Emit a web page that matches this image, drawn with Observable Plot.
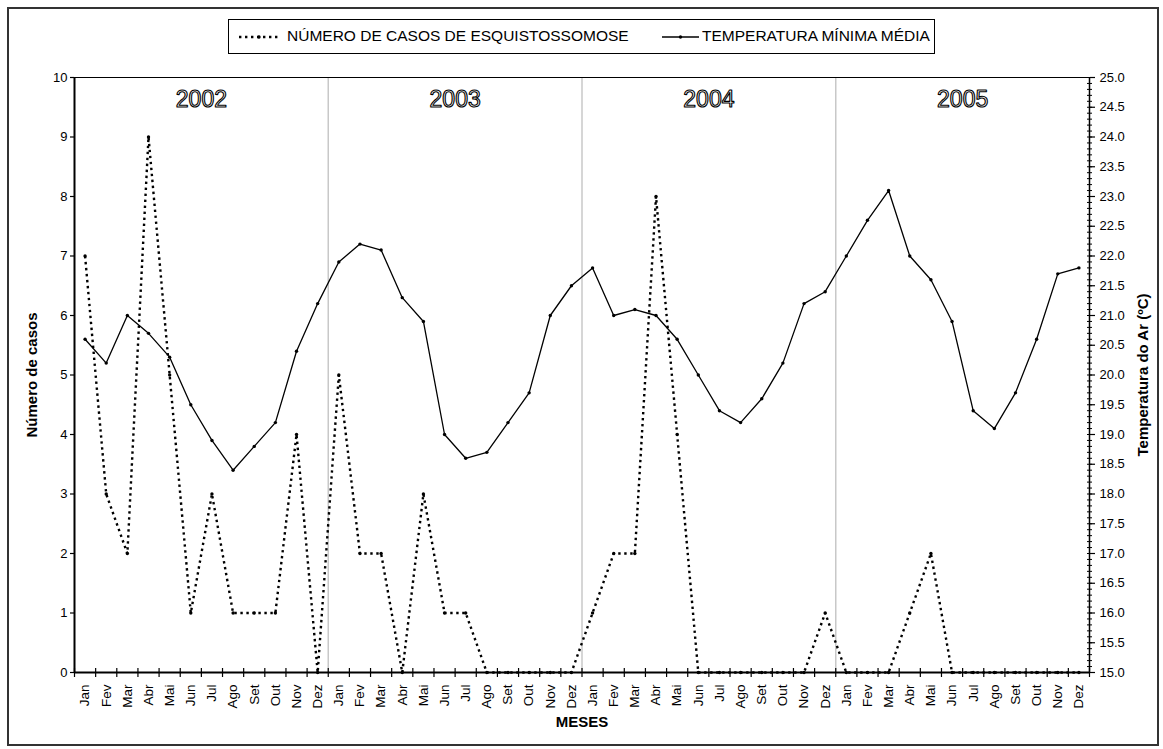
<!DOCTYPE html>
<html>
<head>
<meta charset="utf-8">
<script src="https://cdn.jsdelivr.net/npm/d3@7"></script>
<script src="https://cdn.jsdelivr.net/npm/@observablehq/plot@0.6"></script>
<style>
  html, body { margin: 0; padding: 0; background: #fff; }
  #wrap { position: relative; width: 1163px; height: 749px; overflow: hidden; font-family: "Liberation Sans", Arial, sans-serif; }
  #frame { position: absolute; left: 7px; top: 7px; width: 1148px; height: 735px; border: 2px solid #333; pointer-events: none; }
  #legend { position: absolute; left: 228px; top: 19px; width: 705px; height: 33px; border: 1px solid #000; background: #fff;
            font-size: 15.5px; color: #000; white-space: nowrap; }
  #legend svg, #legend span { position: absolute; display: block; }
  #chart { position: absolute; left: 0; top: 0; }
</style>
</head>
<body>
<div id="wrap">
  <div id="chart"></div>
  <div id="legend"></div>
  <div id="frame"></div>
</div>
<script>
const months = ["Jan","Fev","Mar","Abr","Mai","Jun","Jul","Ago","Set","Out","Nov","Dez"];
const years = ["2002","2003","2004","2005"];
const seriesNames = ["NÚMERO DE CASOS DE ESQUISTOSSOMOSE", "TEMPERATURA MÍNIMA MÉDIA"];

// Número de casos (eixo esquerdo), Jan 2002 .. Dez 2005
const cases = [
  7, 3, 2, 9, 5, 1, 3, 1, 1, 1, 4, 0,
  5, 2, 2, 0, 3, 1, 1, 0, 0, 0, 0, 0,
  1, 2, 2, 8, 4, 0, 0, 0, 0, 0, 0, 1,
  0, 0, 0, 1, 2, 0, 0, 0, 0, 0, 0, 0
];
// Temperatura mínima média (°C, eixo direito)
const temperature = [
  20.6, 20.2, 21.0, 20.7, 20.3, 19.5, 18.9, 18.4, 18.8, 19.2, 20.4, 21.2,
  21.9, 22.2, 22.1, 21.3, 20.9, 19.0, 18.6, 18.7, 19.2, 19.7, 21.0, 21.5,
  21.8, 21.0, 21.1, 21.0, 20.6, 20.0, 19.4, 19.2, 19.6, 20.2, 21.2, 21.4,
  22.0, 22.6, 23.1, 22.0, 21.6, 20.9, 19.4, 19.1, 19.7, 20.6, 21.7, 21.8
];
const leftTicks = d3.range(0, 11, 1);
const rightMajor = d3.range(15, 25.001, 0.5).map(v => +v.toFixed(1));
const rightMinor = d3.range(15, 25.001, 0.1).map(v => +v.toFixed(1));
const tempMin = 15;

const n = cases.length;
const rows = cases.map((c, i) => ({ i, c, t: temperature[i], month: months[i % 12] }));
const boundaries = d3.range(n + 1).map(k => k - 0.5);
const yearBreaks = d3.range(1, years.length).map(k => k * 12 - 0.5);

const W = 1163, H = 749, mL = 74, mR = 74, mT = 77, mB = 77;
const plotH = H - mT - mB, plotW = W - mL - mR;
const blank = () => "";

const chart = Plot.plot({
  width: W, height: H,
  marginLeft: mL, marginRight: mR, marginTop: mT, marginBottom: mB,
  style: { fontFamily: '"Liberation Sans", Arial, sans-serif', fontSize: "13px", color: "#000", background: "transparent", overflow: "visible" },
  x: { type: "linear", domain: [-0.5, n - 0.5] },
  y: { domain: [0, 10] },
  marks: [
    // year separators
    Plot.ruleX(yearBreaks, { stroke: "#c8c8c8", strokeWidth: 1.5 }),
    // plot-area top border
    Plot.ruleY([10], { stroke: "#000", strokeWidth: 1 }),
    // x axis: category boundary ticks (crossing the axis)
    Plot.axisX(boundaries, { anchor: "bottom", tickSize: 5, tickFormat: blank, label: null, strokeWidth: 1.2 }),
    Plot.tickX(boundaries, { x: d => d, insetTop: plotH - 4, stroke: "#000", strokeWidth: 1.2 }),
    // x axis month labels
    Plot.axisX(d3.range(n), { anchor: "bottom", tickSize: 0, tickPadding: 12, tickRotate: -90, fontSize: 13.5,
      tickFormat: i => months[i % 12], label: null }),
    // left axis
    Plot.axisY(leftTicks, { anchor: "left", tickSize: 4, tickPadding: 3, label: null, strokeWidth: 1.2, tickFormat: d3.format("d") }),
    // right axis: minor crossing ticks + major labelled ticks
    Plot.axisY(rightMinor.map(v => v - tempMin), { anchor: "right", tickSize: 2, tickFormat: blank, label: null, strokeWidth: 1 }),
    Plot.tickY(rightMinor.map(v => v - tempMin), { y: d => d, insetLeft: plotW - 2, stroke: "#000", strokeWidth: 1 }),
    Plot.axisY(rightMajor.map(v => v - tempMin), { anchor: "right", tickSize: 5, tickPadding: 5, label: null, strokeWidth: 1.2,
      tickFormat: d => (d + tempMin).toFixed(1) }),
    // axis lines
    Plot.ruleX([-0.5], { stroke: "#000", strokeWidth: 2 }),
    Plot.ruleX([n - 0.5], { stroke: "#000", strokeWidth: 1.5 }),
    Plot.ruleY([0], { stroke: "#000", strokeWidth: 2 }),
    // axis titles
    Plot.text(["Número de casos"], { frameAnchor: "left", dx: -42, rotate: -90, textAnchor: "middle", fontSize: 15, fontWeight: "bold", fill: "#000" }),
    Plot.text(["Temperatura do Ar (ºC)"], { frameAnchor: "right", dx: 54, rotate: -90, textAnchor: "middle", fontSize: 15, fontWeight: "bold", fill: "#000" }),
    Plot.text(["MESES"], { frameAnchor: "bottom", dy: 54, textAnchor: "middle", fontSize: 15, fontWeight: "bold", fill: "#000" }),
    // year labels (outlined)
    Plot.text(years, { x: (d, k) => k * 12 + 5.5, y: 10, dy: 22, text: d => d, fontSize: 23,
      fill: "#fff", stroke: "#000", strokeWidth: 1.1, paintOrder: "fill" }),
    // temperature series
    Plot.line(rows, { x: "i", y: d => d.t - tempMin, stroke: "#000", strokeWidth: 1.3 }),
    Plot.dot(rows, { x: "i", y: d => d.t - tempMin, r: 1.7, fill: "#000", stroke: null }),
    // cases series (dotted)
    Plot.line(rows, { x: "i", y: "c", stroke: "#000", strokeWidth: 2.4, strokeDasharray: "2.4,3.6", strokeLinecap: "butt", strokeLinejoin: "miter" }),
    Plot.dot(rows, { x: "i", y: "c", r: 1.7, fill: "#000", stroke: null })
  ]
});
document.getElementById("chart").appendChild(chart);

// legend
const legend = document.getElementById("legend");
function sample(dotted, left, width) {
  const s = d3.create("svg").attr("width", width).attr("height", 12);
  s.append("line").attr("x1", 0).attr("x2", width).attr("y1", 6).attr("y2", 6)
    .attr("stroke", "#000")
    .attr("stroke-width", dotted ? 2.4 : 1.3)
    .attr("stroke-dasharray", dotted ? "2.4,3.6" : null);
  s.append("circle").attr("cx", width / 2).attr("cy", 6).attr("r", 1.7).attr("fill", "#000");
  const node = s.node();
  node.style.left = left + "px";
  node.style.top = "11px";
  legend.appendChild(node);
}
function label(text, left) {
  const t = document.createElement("span");
  t.textContent = text;
  t.style.left = left + "px";
  t.style.top = "7px";
  legend.appendChild(t);
}
sample(true, 10, 40);
label(seriesNames[0], 58);
sample(false, 433, 37);
label(seriesNames[1], 473);
</script>
</body>
</html>
